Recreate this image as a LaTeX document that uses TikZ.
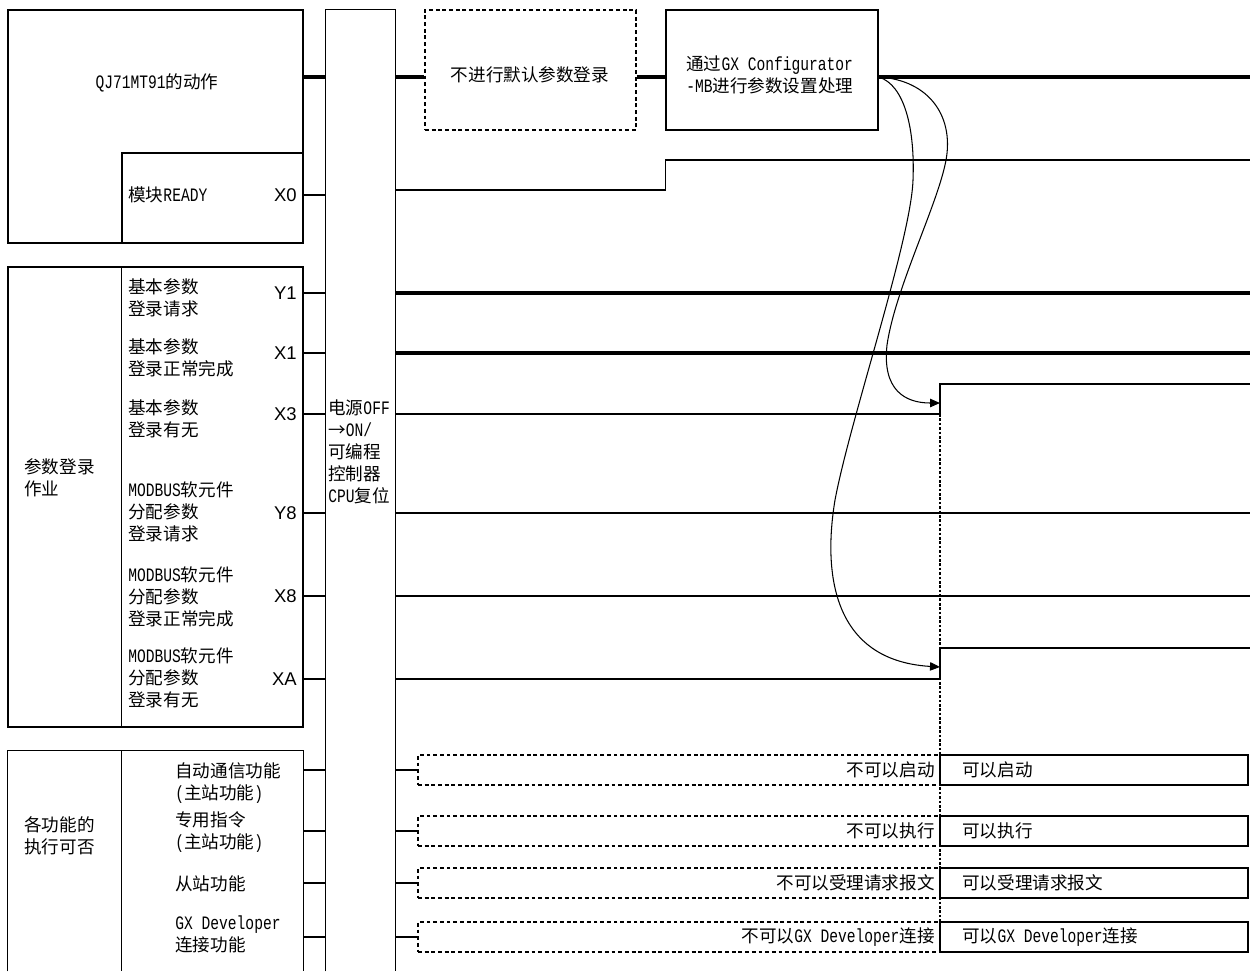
\documentclass[tikz,border=0pt]{standalone}
\usepackage{fontspec}
\setmainfont{Noto Sans CJK SC}
\newfontfamily\enfont[Scale=1.08,FakeStretch=0.77]{Liberation Mono}
\newfontfamily\sigfont{Liberation Sans}
\newcommand\en[1]{{\enfont #1}}
\usetikzlibrary{arrows.meta,fit}
\tikzset{
  >={Triangle[length=2mm,width=1.7mm]},
  frame/.style={draw,line width=0.8pt,inner sep=0pt},
  dframe/.style={draw,line width=0.8pt,inner sep=0pt,dash pattern=on 2.2pt off 1.6pt},
  edge/.style={line width=0.8pt},
  txt/.style={font=\fontsize{10}{12.5}\selectfont,align=left,inner sep=0pt},
  sig/.style={font={\sigfont\fontsize{10.5}{12}\selectfont},anchor=east,inner sep=0pt},
  bus/.style={line width=1.8pt},
  mid/.style={line width=1.1pt},
  wire/.style={line width=0.6pt},
  vdot/.style={line width=1pt,dash pattern=on 1.5pt off 1pt},
}
\begin{document}
\begin{tikzpicture}[x=0.02cm,y=-0.02cm]
  \useasboundingbox (0,0) rectangle (1250,971);
  \coordinate (t0) at (0,77);
  \coordinate (rt) at (1250,0);
  \coordinate (sw) at (940,0);
  \coordinate (a3) at (940,403);
  \coordinate (aa) at (940,667);

  % module operation
  \node[frame,fit={(8,10)(303,243)}] (act) {};
  \node[txt] (actlbl) at (157,83) {\en{QJ71MT91}的动作};
  \node[frame,fit={(122,153)(303,243)}] (rdy) {};
  \node[txt,anchor=west] (rdylbl) at (128,195) {模块\en{READY}};
  \node[sig] (x0) at (297,195) {X0};

  % central column
  \node[inner sep=0pt,fit={(326,10)(395,971)}] (cpu) {};
  \draw[edge] (cpu.south west) |- (cpu.north east) -- (cpu.south east);
  \node[txt,anchor=west] (cpulbl) at (328,452) {电源\en{OFF}\\→\en{ON/}\\可编程\\控制器\\\en{CPU}复位};

  % parameter registration
  \node[frame,fit={(8,267)(303,727)}] (reg) {};
  \draw[edge] (reg.north -| rdy.west) -- (reg.south -| rdy.west);
  \node[txt,anchor=west] (reglbl) at (24,478) {参数登录\\作业};
  \node[txt,anchor=west] (l1) at (128,298) {基本参数\\登录请求};
  \node[sig] (y1) at (297,293) {Y1};
  \node[txt,anchor=west] (l2) at (128,358) {基本参数\\登录正常完成};
  \node[sig] (x1) at (297,353) {X1};
  \node[txt,anchor=west] (l3) at (128,419) {基本参数\\登录有无};
  \node[sig] (x3) at (297,414) {X3};
  \node[txt,anchor=west] (l4) at (128,512) {\en{MODBUS}软元件\\分配参数\\登录请求};
  \node[sig] (y8) at (297,513) {Y8};
  \node[txt,anchor=west] (l5) at (128,597) {\en{MODBUS}软元件\\分配参数\\登录正常完成};
  \node[sig] (x8) at (297,596) {X8};
  \node[txt,anchor=west] (l6) at (128,678) {\en{MODBUS}软元件\\分配参数\\登录有无};
  \node[sig] (xa) at (297,679) {XA};

  % functions
  \node[inner sep=0pt,fit={(8,751)(303,971)}] (fun) {};
  \draw[edge] (fun.south west) |- (fun.north east) -- (fun.south east);
  \draw[edge] (fun.north -| rdy.west) -- (fun.south -| rdy.west);
  \node[txt,anchor=west] (funlbl) at (24,836) {各功能的\\执行可否};
  \node[txt,anchor=west] (f1) at (175,783) {自动通信功能\\\en{(}主站功能\en{)}};
  \node[txt,anchor=west] (f2) at (175,832) {专用指令\\\en{(}主站功能\en{)}};
  \node[txt,anchor=west] (f3) at (175,884) {从站功能};
  \node[txt,anchor=west] (f4) at (175,934) {\en{GX Developer}\\连接功能};

  % top boxes
  \node[dframe,fit={(425,10)(636,130)}] (nodef) {};
  \node[txt] (nodeflbl) at (530,75) {不进行默认参数登录};
  \node[frame,fit={(666,10)(878,130)}] (cfg) {};
  \node[txt,anchor=west] (cfglbl) at (686,75) {通过\en{GX Configurator}\\\en{-MB}进行参数设置处理};

  \draw[bus] (act.east |- t0) -- (cpu.west |- t0);
  \draw[bus] (cpu.east |- t0) -- (nodef.west |- t0);
  \draw[bus] (nodef.east |- t0) -- (cfg.west |- t0);
  \draw[bus] (cfg.east |- t0) -- (rt |- t0);

  % signals
  \draw[wire] (rdy.east |- x0) -- (cpu.west |- x0);
  \draw[wire] (cpu.east |- 0,190) -- (cfg.west |- 0,190) |- (1250,160);
  \draw[wire] (reg.east |- y1) -- (cpu.west |- y1);
  \draw[bus] (cpu.east |- y1) -- (rt |- y1);
  \draw[wire] (reg.east |- x1) -- (cpu.west |- x1);
  \draw[bus] (cpu.east |- x1) -- (rt |- x1);
  \draw[wire] (reg.east |- x3) -- (cpu.west |- x3);
  \draw[wire] (cpu.east |- x3) -- (sw |- x3) |- (1250,384);
  \draw[mid] (reg.east |- y8) -- (cpu.west |- y8);
  \draw[edge] (cpu.east |- y8) -- (rt |- y8);
  \draw[wire] (reg.east |- x8) -- (cpu.west |- x8);
  \draw[wire] (cpu.east |- x8) -- (rt |- x8);
  \draw[wire] (reg.east |- xa) -- (cpu.west |- xa);
  \draw[wire] (cpu.east |- xa) -- (sw |- xa) |- (1250,648);
  \draw[vdot] (sw |- x3) -- (940,952);

  % parameter setting reaches the flags
  \draw[wire,->] (cfg.east |- t0) .. controls (930,80) and (956,118) .. (945,165)
    .. controls (935,210) and (895,290) .. (887,345)
    .. controls (882,390) and (905,403) .. (a3);
  \draw[wire,->] (cfg.east |- t0) .. controls (905,85) and (915,130) .. (913,180)
    .. controls (911,240) and (850,420) .. (835,500)
    .. controls (825,560) and (825,660) .. (aa);

  % enable states
  \foreach \i/\y/\w/\offtxt/\ontxt in {1/770/0.6pt/不可以启动/可以启动,
      2/831/1.2pt/不可以执行/可以执行,
      3/883/0.6pt/不可以受理请求报文/可以受理请求报文,
      4/937/0.6pt/{不可以\en{GX Developer}连接}/{可以\en{GX Developer}连接}} {
    \node[dframe,fit={(418,\y-15)(940,\y+15)}] (off\i) {};
    \node[txt,anchor=east] (offlbl\i) at (935,\y) {\offtxt};
    \node[frame,fit={(940,\y-15)(1248,\y+15)}] (on\i) {};
    \node[txt,anchor=west] (onlbl\i) at (962,\y) {\ontxt};
    \draw[line width=\w] (fun.east |- off\i.west) -- (cpu.west |- off\i.west);
    \draw[line width=\w] (cpu.east |- off\i.west) -- (off\i.west);
  }
\end{tikzpicture}
\end{document}
